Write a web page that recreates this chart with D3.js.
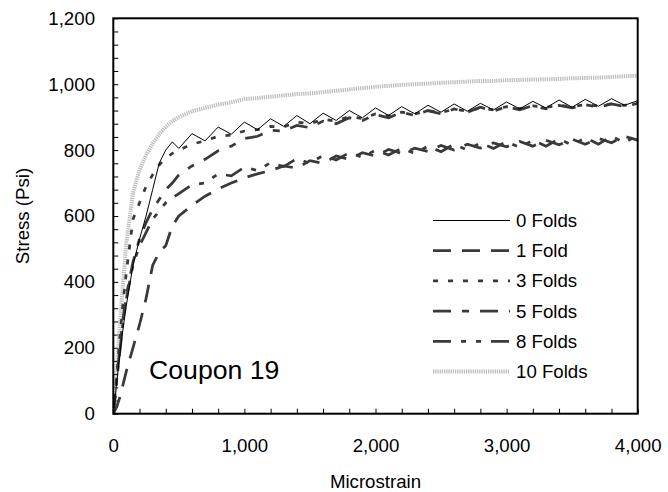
<!DOCTYPE html>
<html><head><meta charset="utf-8">
<script src="https://cdn.jsdelivr.net/npm/d3@7"></script>
<style>
html,body{margin:0;padding:0;background:#fff;}
text{font-family:"Liberation Sans",Arial,sans-serif;fill:#000;}
</style></head>
<body><svg id="c" width="668" height="492"></svg>
<script>
// ---- data ----
const strain = [0,25,50,75,100,150,200,250,300,350,400,450,
  500,600,700,800,900,1000,1100,1200,1300,1400,1500,1600,1700,1800,1900,2000,
  2100,2200,2300,2400,2500,2600,2700,2800,2900,3000,3100,3200,3300,3400,3500,
  3600,3700,3800,3900,4000];
const seriesNames = ["0 Folds","1 Fold","3 Folds","5 Folds","8 Folds","10 Folds"];
const stress0 = [0,90,180,260,330,450,530,600,680,760,800,825,
  805,850,828,870,848,885,862,895,872,905,880,912,890,920,898,928,905,932,910,936,
  915,940,918,942,922,946,925,948,928,952,930,954,933,956,936,950];
const stress1 = [0,20,50,90,130,200,270,350,450,490,510,570,
  600,632,660,682,700,716,728,738,752,745,768,760,782,772,792,782,802,790,806,796,
  814,800,818,806,822,810,826,812,830,816,833,818,836,822,842,830];
const stress3 = [0,110,230,340,430,590,640,690,725,755,775,790,
  800,818,828,842,846,858,862,872,870,885,880,894,888,902,896,910,904,915,910,920,
  914,924,918,928,922,932,926,934,930,936,932,938,934,940,936,942];
const stress5 = [0,100,200,290,360,460,530,580,620,650,680,700,
  725,752,772,798,812,835,842,860,858,875,868,888,880,898,890,908,898,915,905,920,
  910,925,915,930,918,932,922,935,925,936,928,938,930,940,932,942];
const stress8 = [0,95,190,280,350,450,510,550,590,615,640,655,
  668,695,700,728,722,748,738,762,750,774,760,784,770,792,778,800,785,806,790,812,
  795,818,800,822,805,826,808,830,812,834,815,838,818,842,822,846];
const stress10 = [0,130,270,400,520,670,740,785,820,848,870,888,
  900,918,928,938,945,955,958,962,966,970,972,976,980,984,988,992,995,998,1000,1002,
  1004,1006,1008,1010,1010,1012,1013,1014,1015,1016,1018,1019,1020,1022,1024,1026];
const xTickLabels = [0,1000,2000,3000,4000];
const yTickLabels = [0,200,400,600,800,1000,1200];

// ---- styles ----
const styles = [
  {color:"#000000", width:1,   dash:null},
  {color:"#3a3a3a", width:2.75, dash:"18,11"},
  {color:"#3a3a3a", width:2.75, dash:"5,10"},
  {color:"#3a3a3a", width:2.75, dash:"18,11,7,11"},
  {color:"#3a3a3a", width:2.75, dash:"18,10,5,10,5,10"},
  {color:"#bdbdbd", width:4,   dash:"1.3,0.9"}
];
const allStress = [stress0,stress1,stress3,stress5,stress8,stress10];

const svg = d3.select("#c");
const L=113.3, R=637.7, T=18.3, B=413.7;
const x = d3.scaleLinear().domain([0,4000]).range([L,R]);
const y = d3.scaleLinear().domain([0,1200]).range([B,T]);

svg.append("defs").append("clipPath").attr("id","clip")
  .append("rect").attr("x",L).attr("y",T-4).attr("width",R-L).attr("height",B-T+4);

// minor/major inward ticks
const xAxisTicks = d3.axisBottom(x).tickValues(d3.range(0,4001,200)).tickSize(-5).tickFormat("");
svg.append("g").attr("transform",`translate(0,${B})`).call(xAxisTicks)
  .call(g=>g.select(".domain").remove())
  .call(g=>g.selectAll("line").attr("stroke","#000").attr("stroke-width",1));
const yAxisTicks = d3.axisLeft(y).tickValues(d3.range(0,1201,40)).tickSize(-5).tickFormat("");
svg.append("g").attr("transform",`translate(${L},0)`).call(yAxisTicks)
  .call(g=>g.select(".domain").remove())
  .call(g=>g.selectAll("line").attr("stroke","#000").attr("stroke-width",1));

// labels
const fmt = d3.format(",");
svg.append("g").attr("transform",`translate(0,${B})`)
  .call(d3.axisBottom(x).tickValues(xTickLabels).tickSize(0).tickPadding(25).tickFormat(fmt))
  .call(g=>g.select(".domain").remove())
  .call(g=>g.selectAll("text").attr("font-size","18.67px").attr("fill","#000")
    .attr("font-family","'Liberation Sans',Arial,sans-serif"));
svg.append("g").attr("transform",`translate(${L},0)`)
  .call(d3.axisLeft(y).tickValues(yTickLabels).tickSize(0).tickPadding(18.3).tickFormat(fmt))
  .call(g=>g.select(".domain").remove())
  .call(g=>g.selectAll("text").attr("font-size","18.67px").attr("fill","#000")
    .attr("font-family","'Liberation Sans',Arial,sans-serif"));

// lines
const line = d3.line().x((d,i)=>x(strain[i])).y(d=>y(d));
const gl = svg.append("g").attr("clip-path","url(#clip)");
// draw order: light grey first, then dark, 0 Folds on top
[5,1,8-4,3,2,0].forEach(k=>{
  const idx = k;
  const s = styles[idx];
  gl.append("path").datum(allStress[idx]).attr("d",line)
    .attr("fill","none").attr("stroke",s.color).attr("stroke-width",s.width)
    .attr("stroke-dasharray",s.dash).attr("stroke-linejoin","miter");
});

// frame
svg.append("rect").attr("x",L).attr("y",T).attr("width",R-L).attr("height",B-T)
  .attr("fill","none").attr("stroke","#000").attr("stroke-width",2);

// axis titles
svg.append("text").attr("x",(L+R)/2).attr("y",488).attr("text-anchor","middle")
  .attr("font-size","18.67px").text("Microstrain");
svg.append("text").attr("transform",`translate(29,${(T+B)/2}) rotate(-90)`)
  .attr("text-anchor","middle").attr("font-size","18.67px").text("Stress (Psi)");

// annotation
svg.append("text").attr("x",149).attr("y",379).attr("font-size","26.67px").text("Coupon 19");

// legend
const lg = svg.append("g");
seriesNames.forEach((n,i)=>{
  const yy = 220.5 + i*30.2;
  const s = styles[i];
  lg.append("line").attr("x1",433).attr("x2",510).attr("y1",yy).attr("y2",yy)
    .attr("stroke",s.color).attr("stroke-width",s.width).attr("stroke-dasharray",s.dash);
  lg.append("text").attr("x",516).attr("y",yy).attr("dy","0.35em")
    .attr("font-size","18.67px").text(n);
});
</script></body></html>
